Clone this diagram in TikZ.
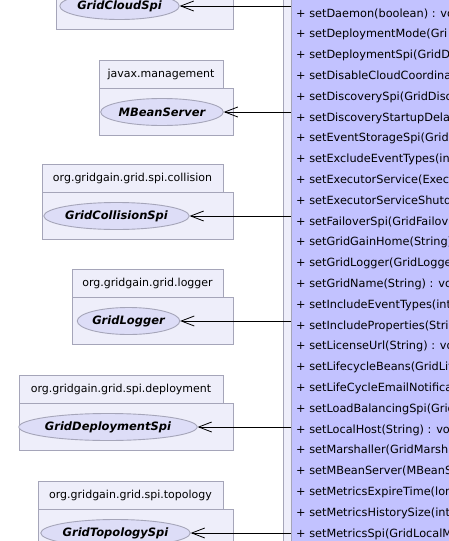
\documentclass[tikz,border=0pt]{standalone}
\usepackage{fontspec}
\setmainfont{DejaVu Sans}
\usetikzlibrary{shapes.geometric,arrows.meta}
\definecolor{pkgfill}{RGB}{238,238,250}
\definecolor{ifill}{RGB}{221,221,247}
\definecolor{edgec}{RGB}{165,165,185}
\definecolor{methfill}{RGB}{194,194,255}
\begin{document}
\begin{tikzpicture}[x=1pt,y=-1pt,
  pkgtab/.style={draw=edgec,fill=pkgfill,line width=0.9pt,inner sep=0pt,minimum height=28pt,font=\fontsize{11}{13}\selectfont},
  pkgbody/.style={draw=edgec,fill=pkgfill,line width=0.9pt,inner sep=0pt,minimum height=47pt},
  iface/.style={ellipse,draw=edgec,fill=ifill,line width=0.9pt,inner sep=0pt,minimum height=27pt,font=\fontsize{11.5}{13}\selectfont\bfseries\itshape},
  frame/.style={draw=edgec,line width=0.9pt,inner sep=0pt,anchor=north west,minimum width=300pt,minimum height=700pt},
  method/.style={anchor=base west,inner sep=0pt,font=\fontsize{11.3}{13}\selectfont},
  dep/.style={draw=black,line width=0.8pt,-{Straight Barb[length=13pt,width=10pt]}}]
\useasboundingbox (0,0) rectangle (449,541);
\clip (0,0) rectangle (449,541);
% container and class box
\node[frame,fill=pkgfill] (cont) at (283,-60) {};
\node[frame,fill=methfill] (cls) at (291,-60) {};
\foreach \m [count=\i from 0] in {
 setDaemon(boolean) : vo,
 setDeploymentMode(Gri,
 setDeploymentSpi(GridD,
 setDisableCloudCoordina,
 setDiscoverySpi(GridDisc,
 setDiscoveryStartupDela,
 setEventStorageSpi(GridE,
 setExcludeEventTypes(in,
 setExecutorService(Execu,
 setExecutorServiceShutd,
 setFailoverSpi(GridFailov,
 setGridGainHome(String),
 setGridLogger(GridLogge,
 setGridName(String) : vo,
 setIncludeEventTypes(int,
 setIncludeProperties(Stri,
 setLicenseUrl(String) : vo,
 setLifecycleBeans(GridLif,
 setLifeCycleEmailNotifica,
 setLoadBalancingSpi(Grid,
 setLocalHost(String) : voi,
 setMarshaller(GridMarsh,
 setMBeanServer(MBeanS,
 setMetricsExpireTime(lon,
 setMetricsHistorySize(int),
 setMetricsSpi(GridLocalM}
 \node[method] (m\i) at (296,17+20.8*\i) {+ \m};
% package 1 (tab off page)
\node[pkgbody,minimum width=177pt] (b1) at (144.5,5.5) {};
\node[iface,minimum width=111pt] (e1) at (119.5,6) {GridCloudSpi};
% package 2
\node[pkgbody,minimum width=134pt] (b2) at (166,111.5) {};
\node[pkgtab,minimum width=124pt] (t2) at (161,74) {javax.management};
\node[iface,minimum width=110pt] (e2) at (162,112) {MBeanServer};
% package 3
\node[pkgbody,minimum width=191pt] (b3) at (137.5,215.5) {};
\node[pkgtab,minimum width=181pt] (t3) at (132.5,178) {org.gridgain.grid.spi.collision};
\node[iface,minimum width=133pt] (e3) at (116.5,216) {GridCollisionSpi};
% package 4
\node[pkgbody,minimum width=161pt] (b4) at (152.5,320.5) {};
\node[pkgtab,minimum width=151pt] (t4) at (147.5,283) {org.gridgain.grid.logger};
\node[iface,minimum width=97pt] (e4) at (128.5,321) {GridLogger};
% package 5
\node[pkgbody,minimum width=214pt] (b5) at (126,426.5) {};
\node[pkgtab,minimum width=204pt] (t5) at (121,389) {org.gridgain.grid.spi.deployment};
\node[iface,minimum width=162pt] (e5) at (108,427) {GridDeploymentSpi};
% package 6
\node[pkgbody,minimum width=195pt] (b6) at (135.5,532.5) {};
\node[pkgtab,minimum width=185pt] (t6) at (130.5,495) {org.gridgain.grid.spi.topology};
\node[iface,minimum width=139pt] (e6) at (115.5,533) {GridTopologySpi};
% dependencies
\foreach \k in {1,...,6}
  \draw[dep] (e\k -| cls.west) -- (e\k.east);
\end{tikzpicture}
\end{document}
